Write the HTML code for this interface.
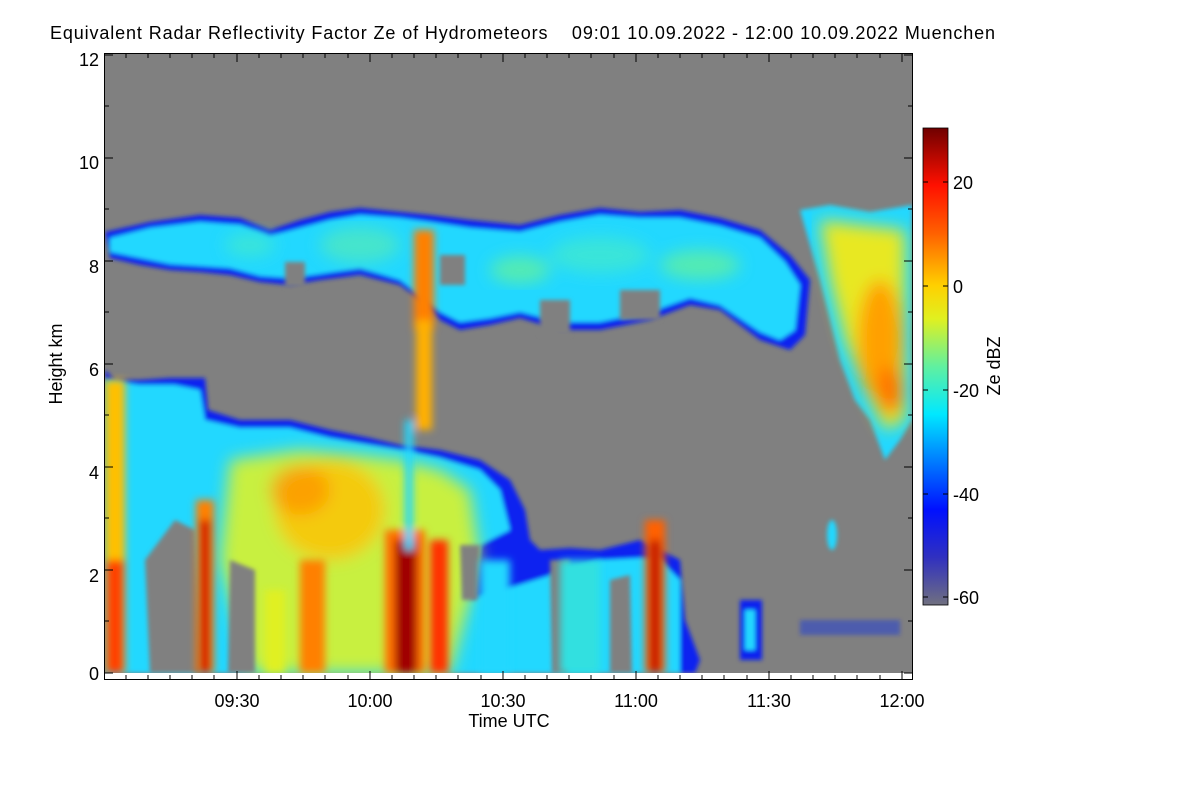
<!DOCTYPE html>
<html><head><meta charset="utf-8"><style>
html,body{margin:0;padding:0;background:#fff;}
svg{display:block;font-family:"Liberation Sans",sans-serif;}
</style></head><body>
<svg width="1200" height="800" viewBox="0 0 1200 800">
<defs>
<linearGradient id="cb" x1="0" y1="1" x2="0" y2="0">
<stop offset="0" stop-color="#707080"/>
<stop offset="0.1" stop-color="#3030c0"/>
<stop offset="0.2" stop-color="#0010ff"/>
<stop offset="0.32" stop-color="#0090ff"/>
<stop offset="0.4" stop-color="#00e8ff"/>
<stop offset="0.5" stop-color="#60f0a0"/>
<stop offset="0.6" stop-color="#e0f020"/>
<stop offset="0.67" stop-color="#ffd000"/>
<stop offset="0.78" stop-color="#ff6000"/>
<stop offset="0.88" stop-color="#ff1000"/>
<stop offset="1" stop-color="#700000"/>
</linearGradient>
<filter id="b2"><feGaussianBlur stdDeviation="2"/></filter>
<filter id="b4"><feGaussianBlur stdDeviation="4"/></filter>
<filter id="b8"><feGaussianBlur stdDeviation="8"/></filter>
<clipPath id="pc"><rect x="105" y="54" width="807" height="619"/></clipPath>
</defs>
<rect x="105" y="54" width="807" height="619" fill="#808080"/>
<g clip-path="url(#pc)">
<g filter="url(#b2)">
<path d="M105,232 L150,222 L200,215 L240,218 L270,230 L300,220 L330,212 L360,208 L400,212 L430,215 L470,220 L520,225 L560,215 L600,208 L640,212 L680,210 L720,218 L760,230 L790,255 L810,280 L805,335 L790,350 L760,340 L720,310 L690,305 L650,320 L600,330 L560,330 L520,318 L490,325 L460,330 L440,320 L420,300 L400,285 L360,275 L320,280 L290,285 L260,282 L230,275 L200,272 L170,270 L140,265 L110,258 Z" fill="#1020f0"/>
<path d="M110,238 L150,228 L200,222 L240,225 L270,236 L300,228 L330,220 L360,215 L400,218 L430,222 L470,228 L520,232 L560,222 L600,215 L640,218 L680,218 L720,226 L760,238 L785,262 L800,285 L795,330 L780,340 L760,332 L720,305 L690,298 L650,312 L600,322 L560,322 L520,312 L490,318 L460,322 L440,312 L420,295 L400,280 L360,268 L320,274 L290,278 L260,276 L230,268 L200,266 L170,264 L140,258 L110,252 Z" fill="#20d8ff"/>
</g>
<g filter="url(#b8)" opacity="0.8">
<ellipse cx="360" cy="245" rx="40" ry="18" fill="#50e8c0"/>
<ellipse cx="600" cy="255" rx="50" ry="18" fill="#40e8d0"/>
<ellipse cx="700" cy="265" rx="40" ry="15" fill="#60f0a0"/>
<ellipse cx="250" cy="245" rx="25" ry="12" fill="#40e8d0"/>
<ellipse cx="520" cy="270" rx="30" ry="14" fill="#60f0a0"/>
</g>
<g fill="#808080" filter="url(#b2)">
<rect x="440" y="255" width="25" height="30"/>
<rect x="540" y="300" width="30" height="35"/>
<rect x="620" y="290" width="40" height="30"/>
<rect x="285" y="262" width="20" height="25"/>
</g>
<g filter="url(#b2)">
<path d="M800,210 L830,205 L870,212 L912,205 L912,420 L900,440 L885,460 L870,420 L855,400 L840,360 L830,320 L820,280 L810,245 Z" fill="#20d8ff"/>
</g>
<g filter="url(#b8)">
<path d="M820,220 L860,225 L905,230 L905,420 L885,430 L865,390 L845,340 L830,280 Z" fill="#e8e820"/>
<ellipse cx="880" cy="340" rx="22" ry="60" fill="#ffa000"/>
<ellipse cx="890" cy="390" rx="12" ry="25" fill="#ff7000"/>
</g>
<g filter="url(#b2)">
<path d="M105,370 L115,380 L140,380 L170,378 L205,378 L208,410 L240,420 L290,420 L330,430 L370,438 L400,445 L440,450 L480,460 L510,480 L525,510 L530,540 L540,550 L570,548 L600,550 L640,540 L660,550 L680,560 L685,620 L700,660 L695,673 L105,673 Z" fill="#1020f0"/>
<path d="M105,380 L140,385 L175,385 L200,390 L205,420 L240,428 L290,428 L330,438 L370,445 L400,450 L440,458 L480,470 L500,490 L510,530 L480,545 L470,600 L600,560 L640,558 L660,560 L680,580 L680,673 L105,673 Z" fill="#20d8ff"/>
</g>
<g filter="url(#b8)">
<path d="M230,460 L300,450 L360,455 L400,460 L440,470 L470,490 L480,560 L450,673 L380,673 L300,673 L250,673 L220,560 Z" fill="#c8f040"/>
<ellipse cx="330" cy="510" rx="55" ry="50" fill="#ffc000" opacity="0.8"/>
<ellipse cx="300" cy="490" rx="30" ry="25" fill="#ff9000" opacity="0.7"/>
</g>
<g fill="#808080" filter="url(#b2)">
<path d="M145,560 L175,520 L195,530 L200,673 L150,673 Z"/>
<path d="M230,560 L255,570 L255,673 L228,673 Z"/>
<path d="M550,560 L570,560 L568,673 L552,673 Z"/>
<path d="M610,580 L630,575 L632,673 L610,673 Z"/>
<path d="M460,545 L480,545 L478,600 L462,600 Z"/>
</g>
<g filter="url(#b4)">
<rect x="105" y="380" width="20" height="293" fill="#ffc000"/>
<rect x="106" y="560" width="18" height="113" fill="#ff4000"/>
<rect x="196" y="500" width="18" height="173" fill="#ff8000"/>
<rect x="200" y="520" width="10" height="153" fill="#d00000"/>
<rect x="300" y="560" width="25" height="113" fill="#ff8000"/>
<rect x="385" y="530" width="40" height="143" fill="#ff7000"/>
<rect x="395" y="540" width="22" height="133" fill="#a00000"/>
<rect x="430" y="540" width="18" height="133" fill="#ff3000"/>
<rect x="414" y="230" width="20" height="100" fill="#ff8000"/>
<rect x="416" y="320" width="16" height="110" fill="#ffb000"/>
<rect x="405" y="420" width="8" height="130" fill="#20d8ff"/>
<rect x="480" y="560" width="30" height="113" fill="#20d8ff"/>
<rect x="560" y="560" width="40" height="113" fill="#30e0e0"/>
<rect x="645" y="520" width="20" height="153" fill="#ff6000"/>
<rect x="650" y="540" width="10" height="133" fill="#c00000"/>
<rect x="265" y="590" width="20" height="83" fill="#e0f020"/>
</g>
<g filter="url(#b2)">
<rect x="740" y="600" width="22" height="60" fill="#1020f0"/>
<rect x="745" y="610" width="10" height="40" fill="#20d8ff"/>
<ellipse cx="832" cy="535" rx="5" ry="15" fill="#20d8ff"/>
<rect x="800" y="620" width="100" height="15" fill="#1020f0" opacity="0.4"/>
</g>
</g>
<rect x="105" y="673" width="807" height="6" fill="#fff"/>
<g stroke="#000" stroke-width="1" fill="none">
<line x1="104.5" y1="53" x2="104.5" y2="680"/>
<line x1="104" y1="679.5" x2="913" y2="679.5"/>
<line x1="912.5" y1="53" x2="912.5" y2="680"/>
<line x1="104" y1="53.5" x2="913" y2="53.5"/>
<path d="M105,673h8M105,621h4M105,570h8M105,518h4M105,467h8M105,415h4M105,364h8M105,312h4M105,261h8M105,209h4M105,158h8M105,106h4M105,55h8"/>
<path d="M912,673h-8M912,570h-8M912,467h-8M912,364h-8M912,261h-8M912,158h-8M912,55h-8M912,621h-4M912,518h-4M912,415h-4M912,312h-4M912,209h-4M912,106h-4"/>
<path d="M237,679v-8M370,679v-8M503,679v-8M636,679v-8M769,679v-8M902,679v-8"/>
<path d="M237,54v8M370,54v8M503,54v8M636,54v8M769,54v8M902,54v8"/>
<path d="M126,679v-4M148,679v-4M170,679v-4M192,679v-4M214,679v-4M259,679v-4M281,679v-4M303,679v-4M325,679v-4M348,679v-4M392,679v-4M414,679v-4M436,679v-4M458,679v-4M481,679v-4M525,679v-4M547,679v-4M569,679v-4M591,679v-4M614,679v-4M658,679v-4M680,679v-4M702,679v-4M724,679v-4M747,679v-4M791,679v-4M813,679v-4M835,679v-4M857,679v-4M880,679v-4"/>
<path d="M126,54v4M148,54v4M170,54v4M192,54v4M214,54v4M259,54v4M281,54v4M303,54v4M325,54v4M348,54v4M392,54v4M414,54v4M436,54v4M458,54v4M481,54v4M525,54v4M547,54v4M569,54v4M591,54v4M614,54v4M658,54v4M680,54v4M702,54v4M724,54v4M747,54v4M791,54v4M813,54v4M835,54v4M857,54v4M880,54v4"/>
</g>
<g font-size="18" fill="#000" text-anchor="end">
<text x="99" y="680">0</text>
<text x="99" y="582">2</text>
<text x="99" y="479">4</text>
<text x="99" y="376">6</text>
<text x="99" y="273">8</text>
<text x="99" y="169">10</text>
<text x="99" y="66">12</text>
</g>
<g font-size="18" fill="#000" text-anchor="middle">
<text x="237" y="707">09:30</text>
<text x="370" y="707">10:00</text>
<text x="503" y="707">10:30</text>
<text x="636" y="707">11:00</text>
<text x="769" y="707">11:30</text>
<text x="902" y="707">12:00</text>
<text x="509" y="727">Time UTC</text>
</g>
<text x="62" y="364" font-size="18" text-anchor="middle" transform="rotate(-90 62 364)">Height km</text>
<text x="50" y="39" font-size="18" textLength="945" lengthAdjust="spacing" xml:space="preserve">Equivalent Radar Reflectivity Factor Ze of Hydrometeors    09:01 10.09.2022 - 12:00 10.09.2022 Muenchen</text>
<rect x="923" y="128" width="25" height="477" fill="url(#cb)" stroke="#000" stroke-width="0.8"/>
<g stroke="#000" stroke-width="1">
<path d="M923,182h5M948,182h-5M923,286h5M948,286h-5M923,390h5M948,390h-5M923,494h5M948,494h-5M923,597h5M948,597h-5"/>
</g>
<g font-size="18" fill="#000">
<text x="953" y="189">20</text>
<text x="953" y="293">0</text>
<text x="953" y="397">-20</text>
<text x="953" y="501">-40</text>
<text x="953" y="604">-60</text>
</g>
<text x="1000" y="366" font-size="18" text-anchor="middle" transform="rotate(-90 1000 366)">Ze dBZ</text>
</svg>
</body></html>
